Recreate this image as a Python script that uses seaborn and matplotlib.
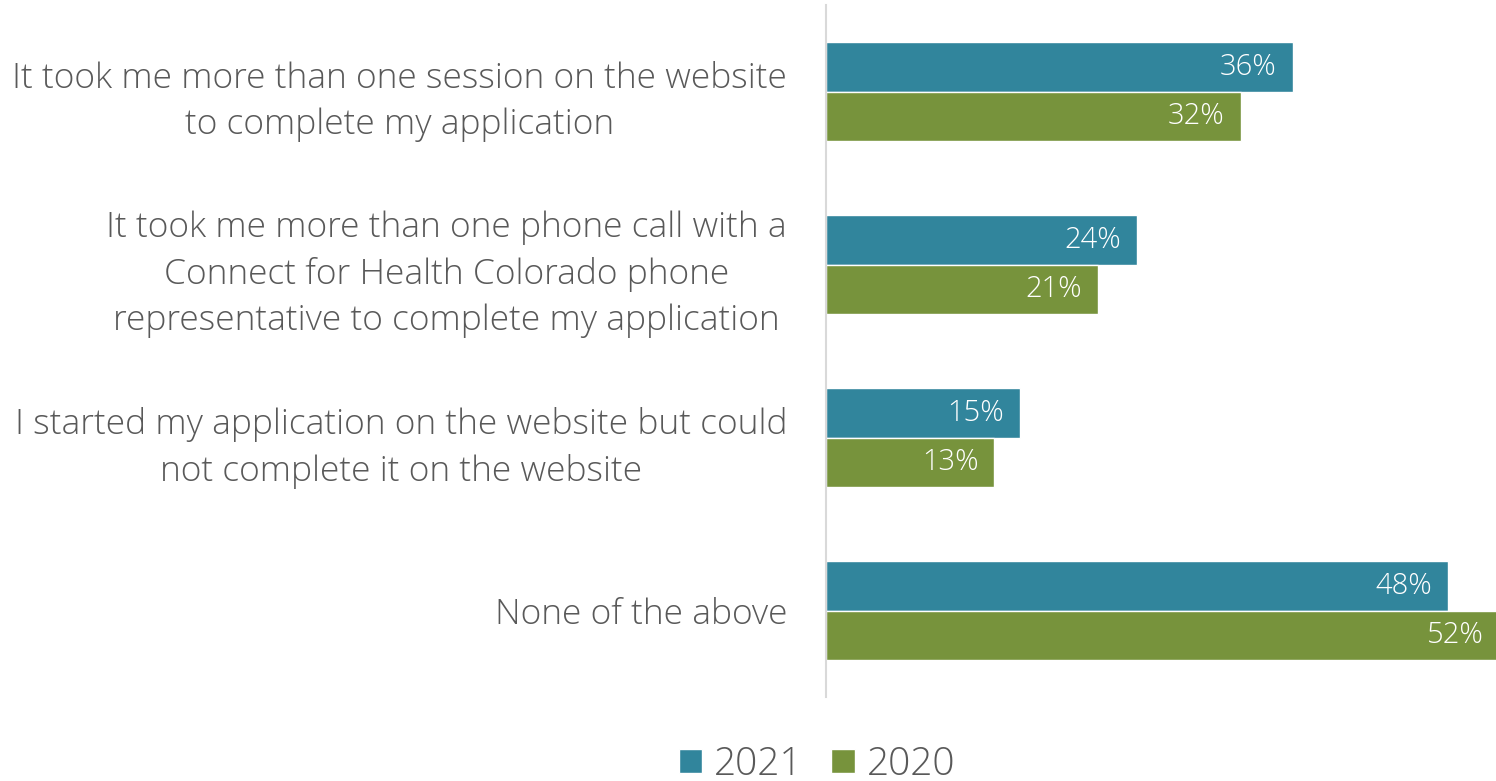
import matplotlib
matplotlib.use("Agg")
import matplotlib.pyplot as plt
import seaborn as sns
import pandas as pd

categories = [
    "It took me more than one session on the website\nto complete my application",
    "It took me more than one phone call with a\nConnect for Health Colorado phone\nrepresentative to complete my application",
    "I started my application on the website but could\nnot complete it on the website",
    "None of the above",
]
years = ["2021", "2020"]
values_2021 = [36, 24, 15, 48]
values_2020 = [32, 21, 13, 52]
colors = ["#31859C", "#77933C"]

df = pd.DataFrame({
    "category": categories * 2,
    "year": [years[0]] * 4 + [years[1]] * 4,
    "value": values_2021 + values_2020,
})

sns.set_theme(style="white")
plt.rcParams["font.family"] = ["Open Sans", "DejaVu Sans"]
text_gray = "#595959"

fig = plt.figure(figsize=(14.96, 7.81), dpi=100)
ax = fig.add_axes([826 / 1496, 1 - 697 / 781, 1 - 826 / 1496, (697 - 5) / 781])

sns.barplot(data=df, x="value", y="category", hue="year", orient="h",
            palette=colors, width=0.57, gap=0, ax=ax, legend=True,
            saturation=1)

ax.set_xlim(0, 51.7)
ax.set_ylim(3.5, -0.5)
ax.set_xlabel("")
ax.set_ylabel("")
ax.set_xticks([])
for s in ["top", "right", "bottom"]:
    ax.spines[s].set_visible(False)
ax.spines["left"].set_color("#D9D9D9")
ax.spines["left"].set_linewidth(1.5)
ax.tick_params(axis="y", length=0, pad=28, labelsize=25.5, labelcolor=text_gray)
for lbl in ax.get_yticklabels():
    lbl.set_multialignment("center")
    lbl.set_linespacing(1.45)
    lbl.set_fontweight("light")

for cont in ax.containers:
    for patch, v in zip(cont.patches, cont.datavalues):
        ax.annotate(f"{int(v)}%",
                    xy=(patch.get_x() + patch.get_width(), patch.get_y() + patch.get_height() / 2),
                    xytext=(-16, 0), textcoords="offset pixels",
                    ha="right", va="center", color="white", fontsize=21,
                    fontweight="light", annotation_clip=False)

leg = ax.get_legend()
leg.remove()
handles, labels = ax.get_legend_handles_labels()
fig.legend(handles[:2], labels[:2], loc="center", bbox_to_anchor=(0.546, 0.021),
           ncol=2, frameon=False, handlelength=0.6, handleheight=0.6,
           handletextpad=0.3, columnspacing=0.75, labelcolor=text_gray,
           prop={"weight": "light", "size": 28})

fig.savefig("out.png", dpi=100)
